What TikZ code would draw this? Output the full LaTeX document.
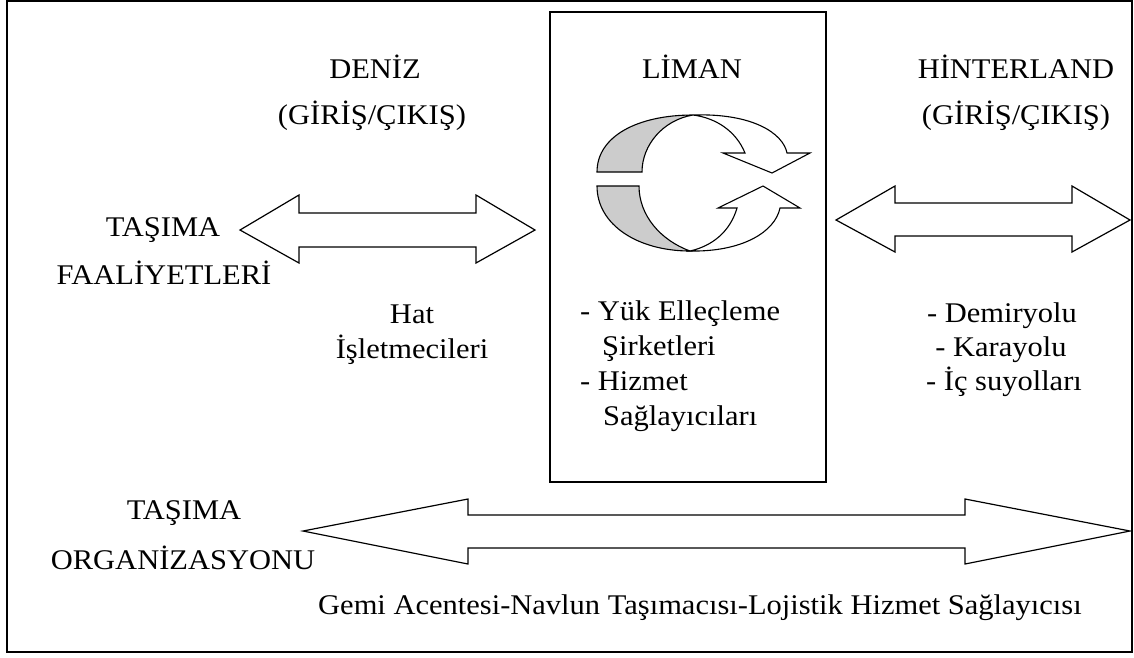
\documentclass[tikz,border=0pt]{standalone}
\usepackage{fontspec}
\setmainfont{Liberation Serif}[FakeStretch=1.07]
\begin{document}
\begin{tikzpicture}[x=1pt,y=-1pt,
  txt/.style={inner sep=0pt,font=\fontsize{28.5}{35}\selectfont},
  frame/.style={draw,line width=1.8pt},
  box/.style={draw,line width=1.3pt},
  bigarrow/.style={draw,line width=1.2pt,fill=white,line join=miter},
  ribbon/.style={draw,line width=1.1pt,line join=miter},
  shade/.style={ribbon,fill=black!20}]
\useasboundingbox (0,0) rectangle (1134,657);
% outer frame
\node[frame,minimum width=1125pt,minimum height=651pt,inner sep=0pt] (outer) at (569.5,326.5) {};
% central box
\node[box,minimum width=276pt,minimum height=470pt,inner sep=0pt] (liman) at (688,247) {};

% headers
\node[txt,anchor=base] (deniz) at (375,78) {DENİZ};
\node[txt,anchor=base] (denizgc) at (372,124) {(GİRİŞ/ÇIKIŞ)};
\node[txt,anchor=base] (limant) at (692,78) {LİMAN};
\node[txt,anchor=base] (hint) at (1016,78) {HİNTERLAND};
\node[txt,anchor=base] (hintgc) at (1016,124) {(GİRİŞ/ÇIKIŞ)};

% left labels
\node[txt,anchor=base] (tas1) at (163,236) {TAŞIMA};
\node[txt,anchor=base] (faal) at (164,284) {FAALİYETLERİ};
\node[txt,anchor=base] (hat) at (412,323) {Hat};
\node[txt,anchor=base] (islet) at (412,358) {İşletmecileri};

% center list
\node[txt,anchor=base west] (yuk) at (580,320) {- Yük Elleçleme};
\node[txt,anchor=base west] (sirk) at (602,355) {Şirketleri};
\node[txt,anchor=base west] (hiz) at (580,390) {- Hizmet};
\node[txt,anchor=base west] (sag) at (603,425) {Sağlayıcıları};

% right list
\node[txt,anchor=base] (demir) at (1002,322) {- Demiryolu};
\node[txt,anchor=base] (kara) at (1001,356) {- Karayolu};
\node[txt,anchor=base] (ic) at (1004,390) {- İç suyolları};

% bottom labels
\node[txt,anchor=base] (tas2) at (184,519) {TAŞIMA};
\node[txt,anchor=base] (org) at (183,569) {ORGANİZASYONU};
\node[txt,anchor=base west] (gemi) at (318,614) {Gemi Acentesi-Navlun Taşımacısı-Lojistik Hizmet Sağlayıcısı};

% left double arrow (sea)
\draw[bigarrow] (240,230) -- (299,195) -- (299,213) -- (476,213) -- (476,195) -- (535,230)
  -- (476,263) -- (476,247) -- (299,247) -- (299,263) -- cycle;
% right double arrow (hinterland)
\draw[bigarrow] (836,220) -- (895,186) -- (895,203) -- (1072,203) -- (1072,186) -- (1130,220)
  -- (1072,252) -- (1072,236) -- (895,236) -- (895,252) -- cycle;
% bottom double arrow (organisation)
\draw[bigarrow] (303,531) -- (468,499) -- (468,515) -- (965,515) -- (965,499) -- (1130,531)
  -- (965,564) -- (965,548) -- (468,548) -- (468,564) -- cycle;

% circular arrows icon
\draw[shade] (597,172) .. controls (597,136) and (638,115) .. (693,115)
  .. controls (663,120) and (642,145) .. (642,172) -- cycle;
\draw[ribbon,fill=white] (693,115) .. controls (752,113) and (783,133) .. (787,153)
  -- (810,153) -- (772,173) -- (723,153) -- (745,153)
  .. controls (736,131) and (716,118) .. (693,115) -- cycle;
\draw[shade] (597,186) .. controls (597,225) and (638,251) .. (690,251)
  .. controls (660,240) and (639,215) .. (639,186) -- cycle;
\draw[ribbon,fill=white] (690,251) .. controls (742,252) and (775,232) .. (780,208)
  -- (800,208) -- (763,186) -- (718,208) -- (737,208)
  .. controls (730,232) and (712,246) .. (690,251) -- cycle;
\end{tikzpicture}
\end{document}
